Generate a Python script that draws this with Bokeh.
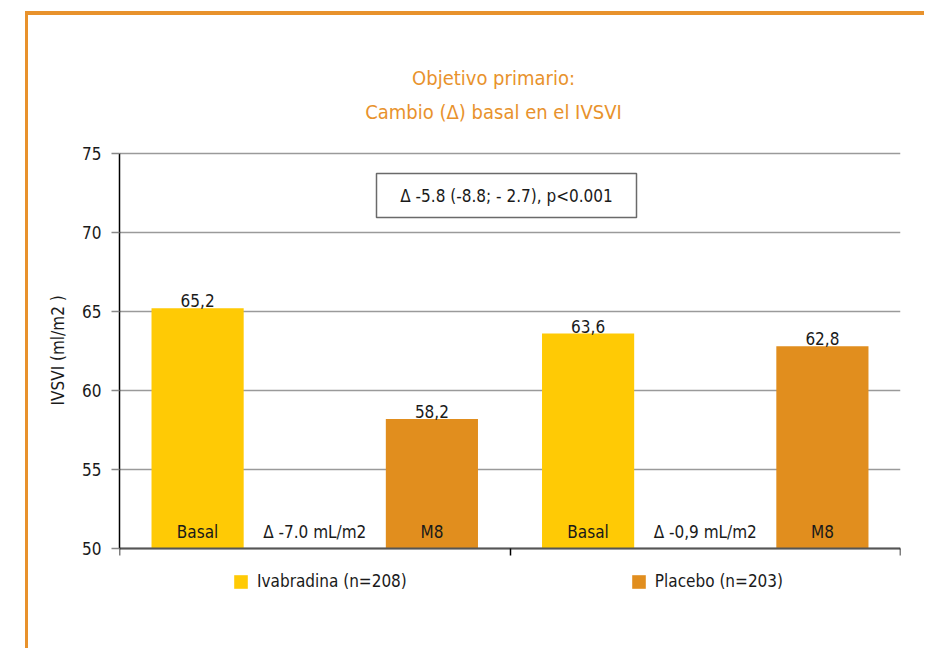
from bokeh.plotting import figure
from bokeh.models import (Range1d, FixedTicker, Legend, LegendItem, Title,
                          ColumnDataSource)
from bokeh.core.properties import value
from bokeh.embed import file_html
from bokeh.resources import INLINE

# ---------------- data ----------------
groups = ["Ivabradina (n=208)", "Placebo (n=203)"]
timepoints = ["Basal", "M8"]
basal_values = [65.2, 63.6]
m8_values = [58.2, 62.8]
basal_labels = ["65,2", "63,6"]
m8_labels = ["58,2", "62,8"]
delta_labels = ["\u0394 -7.0 mL/m2", "\u0394 -0,9 mL/m2"]
diff_label = "\u0394 -5.8 (-8.8; - 2.7), p<0.001"
y_ticks = [50, 55, 60, 65, 70, 75]
title_lines = ["Objetivo primario:", "Cambio (\u0394) basal en el IVSVI"]
y_label = "IVSVI (ml/m2 )"

# ---------------- style / layout ----------------
FONT = "DejaVu Sans Condensed, Roboto, sans-serif"
YELLOW = "#FFCA05"
ORANGE = "#E18E1E"
TITLE_C = "#E8922C"
TEXT_C = "#1a1a1a"
FS = "17px"

W, H = 924, 648
LEFT, RIGHT = 119, 900          # value-axis frame horizontally (px)
AX_TOP, AX_BOT = 153, 548       # where 75 and 50 sit (px)
F_TOP, F_BOT = 30, H - 20       # drawing frame (extended for titles/legend)
Y0, Y1 = 50, 75
ppu = (AX_BOT - AX_TOP) / (Y1 - Y0)
y_end = Y1 + (AX_TOP - F_TOP) / ppu
y_start = Y0 - (F_BOT - AX_BOT) / ppu
xppu = (RIGHT - LEFT) / 2.0


def ypx(py):   # page pixel row -> data value (for layout of texts only)
    return Y1 + (AX_TOP - py) / ppu


def xpx(px):
    return (px - LEFT) / xppu


p = figure(width=W, height=H, output_backend="svg", toolbar_location=None,
           x_range=Range1d(0, 2), y_range=Range1d(y_start, y_end),
           min_border_left=LEFT, min_border_right=W - RIGHT,
           min_border_top=F_TOP, min_border_bottom=H - F_BOT)
p.outline_line_color = None
p.background_fill_color = "white"
p.border_fill_color = None
# decorative orange page frame (top and left edges)
p.styles = {
    "background": (
        f"linear-gradient({TITLE_C},{TITLE_C}) 25px 11px / 3px 100% no-repeat, "
        f"linear-gradient({TITLE_C},{TITLE_C}) 25px 11px / 100% 4px no-repeat, white"
    )
}

# axes
p.yaxis.ticker = FixedTicker(ticks=y_ticks)
p.yaxis.bounds = (Y0, Y1)
p.yaxis.axis_line_color = "black"
p.yaxis.axis_line_width = 1.5
p.yaxis.major_tick_line_color = "#888888"
p.yaxis.major_tick_line_width = 1.5
p.yaxis.major_tick_out = 8
p.yaxis.major_tick_in = 0
p.yaxis.minor_tick_line_color = None
p.yaxis.major_label_standoff = 10
p.yaxis.major_label_text_font = FONT
p.yaxis.major_label_text_font_size = FS
p.yaxis.major_label_text_color = TEXT_C

p.xaxis.ticker = FixedTicker(ticks=[0, 1, 2])
p.xaxis.fixed_location = Y0
p.xaxis.axis_line_color = "#555555"
p.xaxis.axis_line_width = 2
p.xaxis.major_tick_line_color = "black"
p.xaxis.major_tick_line_width = 1.5
p.xaxis.major_tick_out = 7
p.xaxis.major_tick_in = 0
p.xaxis.minor_tick_line_color = None
p.xaxis.major_label_text_color = None

p.xgrid.grid_line_color = None
p.ygrid.grid_line_color = "#9a9a9a"
p.ygrid.grid_line_width = 1.5

# y-axis title, centred on the 50..75 span (text starts at its bottom end)
label_len = 113
axis_mid = (AX_TOP + AX_BOT) / 2
p.add_layout(Title(text=y_label, align="left",
                   offset=F_BOT - 5 - (axis_mid + label_len / 2) + 7,
                   text_font=FONT, text_font_size=FS, text_font_style="normal",
                   text_color=TEXT_C, standoff=24), "left")

# bars
group_centers = [0.5, 1.5]
offset = 0.3
bar_w = 0.236
x_basal = [c - offset for c in group_centers]
x_m8 = [c + offset for c in group_centers]

src_b = ColumnDataSource(dict(x=x_basal, top=basal_values, lab=basal_labels,
                              cat=[timepoints[0]] * 2))
src_m = ColumnDataSource(dict(x=x_m8, top=m8_values, lab=m8_labels,
                              cat=[timepoints[1]] * 2))
r_b = p.vbar(x="x", top="top", bottom=Y0, width=bar_w, source=src_b,
             fill_color=YELLOW, line_color=None)
r_m = p.vbar(x="x", top="top", bottom=Y0, width=bar_w, source=src_m,
             fill_color=ORANGE, line_color=None)

txt = dict(text_font=value(FONT), text_font_size=FS, text_color=TEXT_C,
           text_align="center", text_baseline="bottom")
lift = 1 / ppu
inner = 7 / ppu
for src in (src_b, src_m):
    src.data["ly"] = [t + lift for t in src.data["top"]]
    p.text(x="x", y="ly", text="lab", source=src, **txt)
    p.text(x="x", y=Y0 + inner, text="cat", source=src, **txt)

src_d = ColumnDataSource(dict(x=group_centers, lab=delta_labels))
p.text(x="x", y=Y0 + inner, text="lab", source=src_d, **txt)

# difference box
p.rect(x=xpx(506), y=ypx(195), width=260, height=44, width_units="screen",
       height_units="screen", fill_color="white", line_color="#6a6a6a",
       line_width=1.5)
p.text(x=xpx(506), y=ypx(195), text=[diff_label], text_font=value(FONT),
       text_font_size=FS, text_color=TEXT_C, text_align="center",
       text_baseline="middle")

# chart title (two lines)
p.text(x=[xpx(493)] * 2, y=[ypx(77), ypx(111)], text=title_lines,
       text_font=value(FONT), text_font_size="20px", text_color=TITLE_C,
       text_align="center", text_baseline="middle")

# legend below the value axis, inside the (extended) frame
legend = Legend(items=[LegendItem(label=groups[0], renderers=[r_b]),
                       LegendItem(label=groups[1], renderers=[r_m])],
                location=(113, F_BOT - 591), orientation="horizontal",
                glyph_width=17, glyph_height=17, label_height=17,
                label_standoff=8, spacing=223,
                label_text_font=FONT, label_text_font_size=FS,
                label_text_color=TEXT_C, border_line_color=None,
                background_fill_alpha=0, padding=0, margin=0)
p.add_layout(legend)

open("out.html", "w").write(file_html(p, INLINE))
